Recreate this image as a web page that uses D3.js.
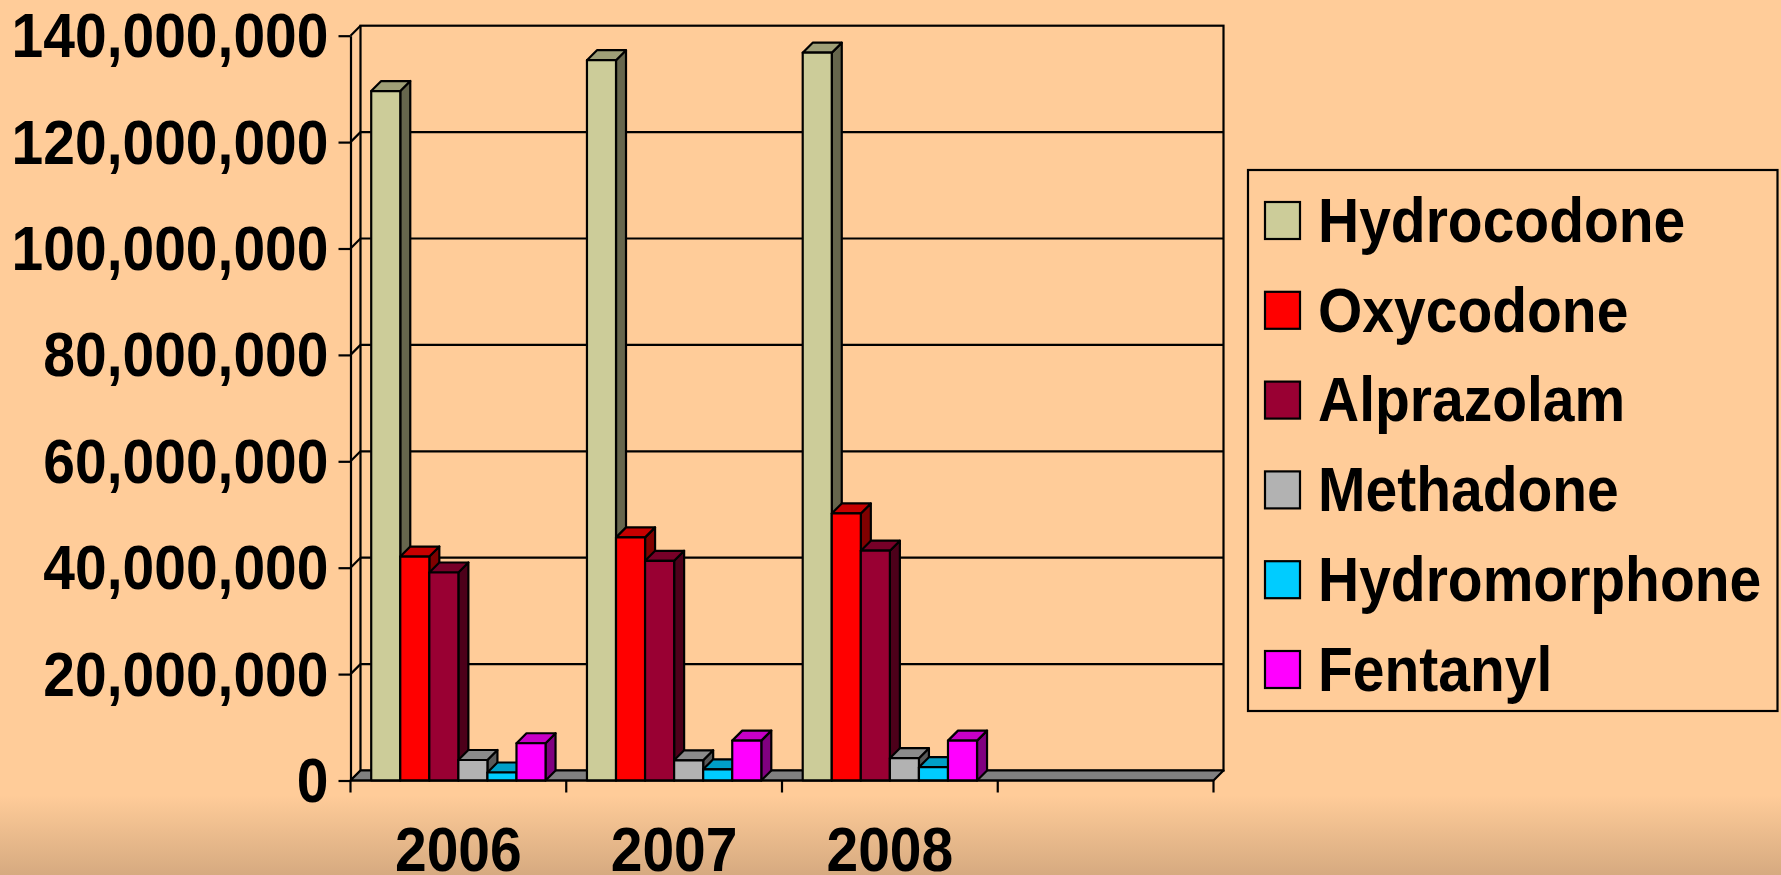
<!DOCTYPE html>
<html>
<head>
<meta charset="utf-8">
<script src="https://cdn.jsdelivr.net/npm/d3@7"></script>
<style>
  html, body { margin: 0; padding: 0; background: #FFCC99; }
  svg { display: block; }
  text { font-family: "Liberation Sans", Arial, sans-serif; font-weight: bold; fill: #000; }
</style>
</head>
<body>
<svg id="chart" width="1781" height="875"></svg>
<script>
// Prescriptions dispensed by drug, 2006-2008 (the fourth category slot is empty)
const categories = ["2006", "2007", "2008", ""];
const seriesNames = ["Hydrocodone", "Oxycodone", "Alprazolam", "Methadone", "Hydromorphone", "Fentanyl"];
const hydrocodone   = [129600000, 135400000, 136800000];
const oxycodone     = [42100000, 45700000, 50200000];
const alprazolam    = [39100000, 41300000, 43200000];
const methadone     = [3850000, 3800000, 4200000];
const hydromorphone = [1500000, 2100000, 2500000];
const fentanyl      = [7000000, 7500000, 7500000];
const yTicks = [0, 20000000, 40000000, 60000000, 80000000, 100000000, 120000000, 140000000];
const seriesColors = ["#CCCC99", "#FF0000", "#990033", "#B2B2B2", "#00CCFF", "#FF00FF"];

const seriesValues = [hydrocodone, oxycodone, alprazolam, methadone, hydromorphone, fentanyl];

const svg = d3.select("#chart");
const W = 1781, H = 875;

// background with darker band along the bottom edge
const defs = svg.append("defs");
const grad = defs.append("linearGradient").attr("id", "bottomFade")
  .attr("x1", 0).attr("y1", 0).attr("x2", 0).attr("y2", 1);
grad.append("stop").attr("offset", 0).attr("stop-color", "#FFCC99");
grad.append("stop").attr("offset", 1).attr("stop-color", "#D6AA80");
svg.append("rect").attr("width", W).attr("height", H).attr("fill", "#FFCC99");
svg.append("rect").attr("y", 795).attr("width", W).attr("height", H - 795).attr("fill", "url(#bottomFade)");

// plot frame: front plane plus a shallow depth offset for the 3-D look
const plotLeft = 350.5, plotRight = 1213.5, plotBase = 780.5, plotTop = 35.7;
const DX = 10, DY = 10;
const textScale = "scale(1,1.1)";

const y = d3.scaleLinear().domain([0, 140000000]).range([plotBase, plotTop]);
const x = d3.scaleBand().domain(categories).range([plotLeft, plotRight]);
const pad = x.bandwidth() * 0.096;
const xi = d3.scaleBand().domain(seriesNames).range([pad, x.bandwidth() - pad]);

const lineStyle = g => g.attr("stroke", "#000").attr("stroke-width", 2.2).attr("fill", "none");

// back wall
svg.append("rect")
  .attr("x", plotLeft + DX).attr("y", y(140000000) - DY)
  .attr("width", plotRight - plotLeft).attr("height", plotBase - y(140000000))
  .attr("fill", "#FFCC99").attr("stroke", "#000").attr("stroke-width", 2.2);

// gridlines on the back wall and their diagonals across the side wall
const grid = svg.append("g");
grid.selectAll("line.back").data(yTicks.slice(1, -1)).join("line")
  .attr("class", "back")
  .attr("x1", plotLeft + DX).attr("x2", plotRight + DX)
  .attr("y1", d => y(d) - DY).attr("y2", d => y(d) - DY)
  .call(lineStyle);
grid.selectAll("line.side").data(yTicks).join("line")
  .attr("class", "side")
  .attr("x1", plotLeft).attr("x2", plotLeft + DX)
  .attr("y1", d => y(d)).attr("y2", d => y(d) - DY)
  .call(lineStyle);

// floor
svg.append("path")
  .attr("d", `M${plotLeft},${plotBase}L${plotRight},${plotBase}L${plotRight + DX},${plotBase - DY}L${plotLeft + DX},${plotBase - DY}Z`)
  .attr("fill", "#808080").attr("stroke", "#000").attr("stroke-width", 2.2).attr("stroke-linejoin", "round");

// 3-D columns
const shade = (c, k) => { const r = d3.rgb(c); return d3.rgb(r.r * k, r.g * k, r.b * k).formatHex(); };
const bars = [];
categories.forEach((cat, ci) => {
  seriesNames.forEach((name, si) => {
    const v = seriesValues[si][ci];
    if (v == null) return;
    bars.push({ cat, name, v, color: seriesColors[si] });
  });
});
const barG = svg.append("g").attr("stroke", "#000").attr("stroke-width", 2.2).attr("stroke-linejoin", "round");
bars.forEach(b => {
  const x0 = x(b.cat) + xi(b.name), x1 = x0 + xi.bandwidth();
  const yt = y(b.v);
  const g = barG.append("g");
  g.append("path") // side face
    .attr("d", `M${x1},${yt}L${x1 + DX},${yt - DY}L${x1 + DX},${plotBase - DY}L${x1},${plotBase}Z`)
    .attr("fill", shade(b.color, 0.5));
  g.append("path") // top face
    .attr("d", `M${x0},${yt}L${x0 + DX},${yt - DY}L${x1 + DX},${yt - DY}L${x1},${yt}Z`)
    .attr("fill", shade(b.color, 0.78));
  g.append("rect") // front face
    .attr("x", x0).attr("y", yt).attr("width", x1 - x0).attr("height", plotBase - yt)
    .attr("fill", b.color);
});

// value axis
const yAxis = svg.append("g").attr("transform", `translate(${plotLeft},0)`)
  .call(d3.axisLeft(y).tickValues(yTicks).tickSize(12).tickSizeOuter(0).tickFormat(d3.format(",")));
yAxis.selectAll("path.domain, .tick line").attr("stroke", "#000").attr("stroke-width", 2.2);
yAxis.selectAll(".tick text")
  .attr("x", -22).attr("dy", null)
  .attr("transform", `translate(0,21) ${textScale}`)
  .attr("font-size", 57)
  .style("font-family", "'Liberation Sans', Arial, sans-serif").style("font-weight", "bold");

// category axis
const xAxisG = svg.append("g");
xAxisG.append("line").attr("x1", plotLeft).attr("x2", plotRight).attr("y1", plotBase).attr("y2", plotBase).call(lineStyle);
const edges = categories.map(c => x(c)).concat([plotRight]);
xAxisG.selectAll("line.tick").data(edges).join("line")
  .attr("class", "tick")
  .attr("x1", d => d).attr("x2", d => d).attr("y1", plotBase).attr("y2", plotBase + 12)
  .call(lineStyle);
xAxisG.selectAll("text").data(categories).join("text")
  .attr("transform", d => `translate(${x(d) + x.bandwidth() / 2},870.5) ${textScale}`)
  .attr("text-anchor", "middle").attr("font-size", 57)
  .text(d => d);

// legend
const legend = svg.append("g");
legend.append("rect").attr("x", 1248).attr("y", 170).attr("width", 529.5).attr("height", 541)
  .call(lineStyle);
const rows = legend.selectAll("g.row").data(seriesNames).join("g")
  .attr("class", "row")
  .attr("transform", (d, i) => `translate(0,${i * 89.8})`);
rows.append("rect").attr("x", 1265).attr("y", 202).attr("width", 35).attr("height", 37)
  .attr("fill", (d, i) => seriesColors[i]).attr("stroke", "#000").attr("stroke-width", 2.2);
rows.append("text")
  .attr("transform", `translate(1318,241.8) ${textScale}`)
  .attr("font-size", 57)
  .text(d => d);
</script>
</body>
</html>
